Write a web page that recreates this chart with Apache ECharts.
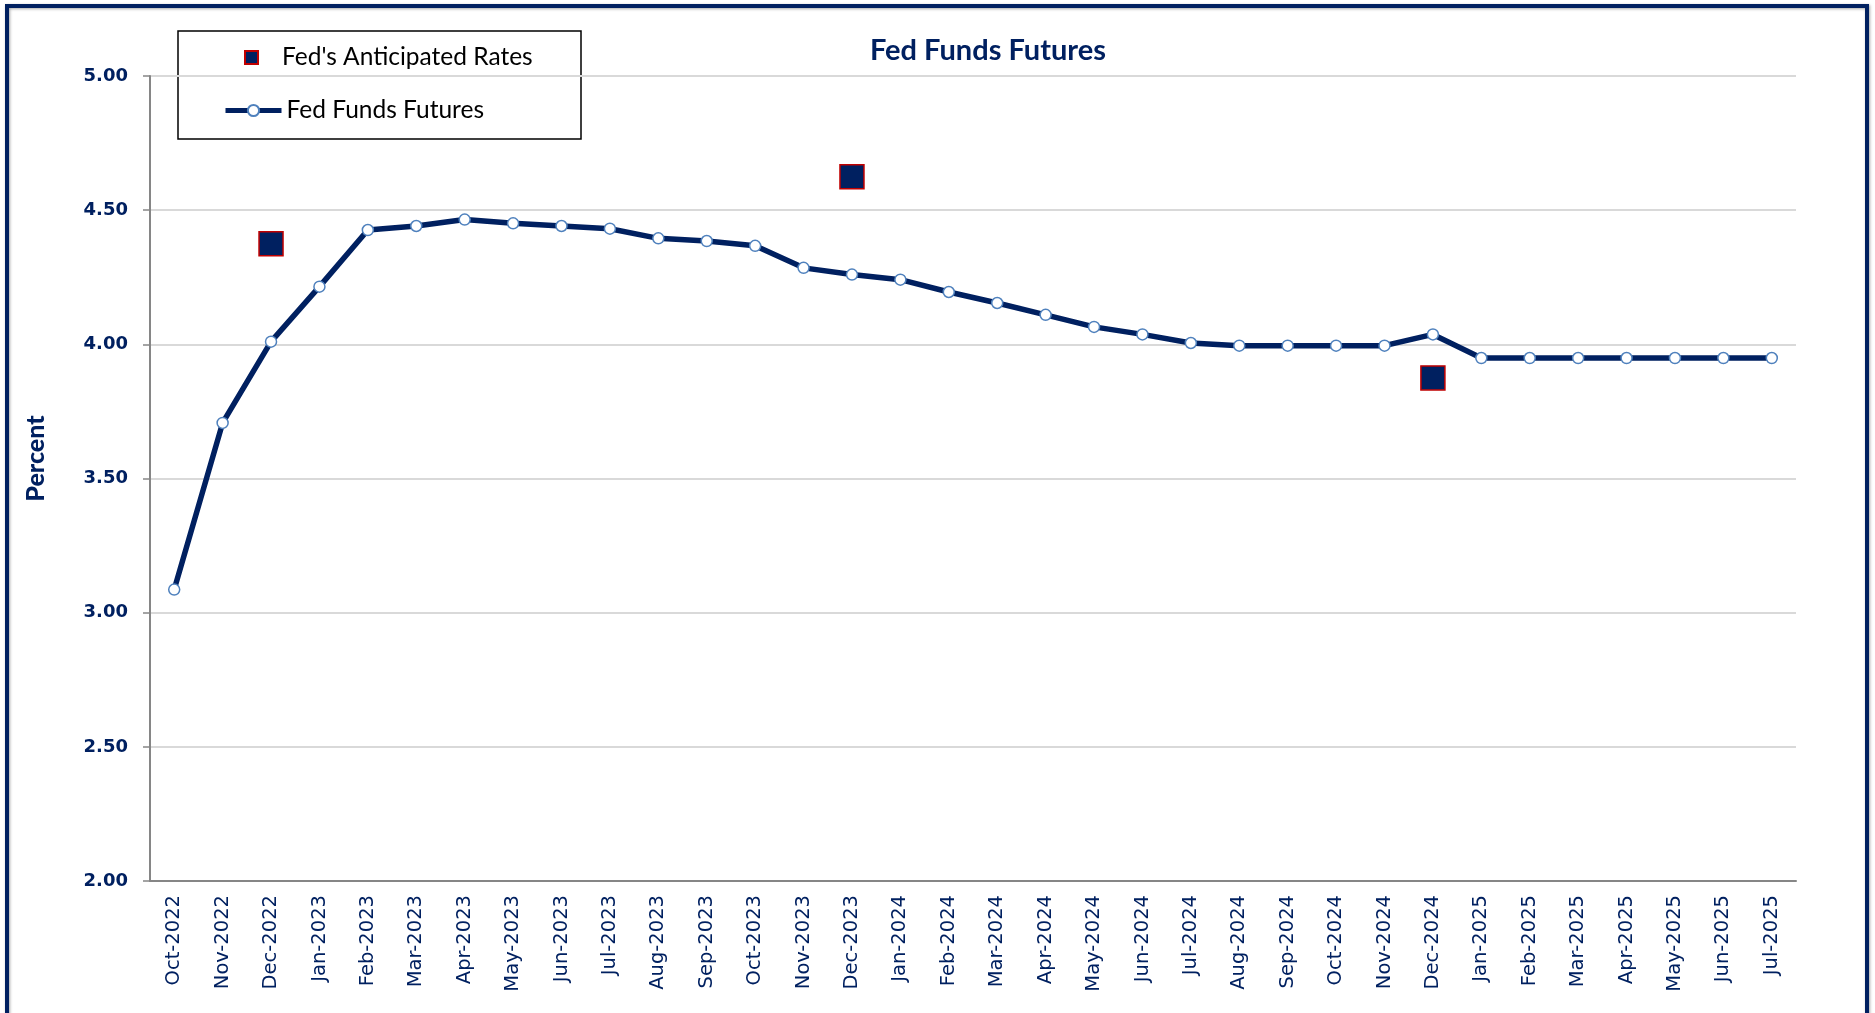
<!DOCTYPE html>
<html>
<head>
<meta charset="utf-8">
<script src="https://cdn.jsdelivr.net/npm/echarts@6/dist/echarts.min.js"></script>
<style>
  html, body { margin: 0; padding: 0; background: #fff; }
  #chart { width: 1875px; height: 1013px; }
</style>
</head>
<body>
<div id="chart"></div>
<script>
var months = [
  "Oct-2022", "Nov-2022", "Dec-2022",
  "Jan-2023", "Feb-2023", "Mar-2023", "Apr-2023", "May-2023", "Jun-2023",
  "Jul-2023", "Aug-2023", "Sep-2023", "Oct-2023", "Nov-2023", "Dec-2023",
  "Jan-2024", "Feb-2024", "Mar-2024", "Apr-2024", "May-2024", "Jun-2024",
  "Jul-2024", "Aug-2024", "Sep-2024", "Oct-2024", "Nov-2024", "Dec-2024",
  "Jan-2025", "Feb-2025", "Mar-2025", "Apr-2025", "May-2025", "Jun-2025", "Jul-2025"
];

var futures = [
  3.086, 3.707, 4.010,
  4.215, 4.426, 4.441, 4.465, 4.451, 4.441,
  4.431, 4.395, 4.385, 4.367, 4.285, 4.260,
  4.241, 4.195, 4.154, 4.110, 4.065, 4.037,
  4.005, 3.995, 3.995, 3.995, 3.995, 4.037,
  3.949, 3.949, 3.949, 3.949, 3.949, 3.949, 3.949
];

// Fed's anticipated year-end rates (only Dec months)
var anticipated = [
  null, null, 4.375,
  null, null, null, null, null, null,
  null, null, null, null, null, 4.625,
  null, null, null, null, null, null,
  null, null, null, null, null, 3.875,
  null, null, null, null, null, null, null
];

var yTicks = [2.0, 2.5, 3.0, 3.5, 4.0, 4.5, 5.0];

var navy = "#002060";

var chart = echarts.init(document.getElementById("chart"));

var option = {
  animation: false,
  title: {
    text: "Fed Funds Futures",
    left: 865,
    top: 31,
    textStyle: {
      fontFamily: "Lato",
      fontWeight: "bold",
      fontSize: 29,
      color: navy,
    },
  },
  legend: [
    {
      data: ["Fed's Anticipated Rates"],
      left: 244,
      top: 45,
      padding: 0,
      itemWidth: 13,
      itemHeight: 13,
      textStyle: {
        fontFamily: "Lato",
        fontSize: 24.5,
        color: "#000",
        padding: [0, 0, 0, 19],
      },
    },
    {
      data: [{
        name: "Fed Funds Futures",
        lineStyle: { width: 5, color: navy },
      }],
      left: 223,
      top: 98,
      padding: 0,
      itemWidth: 56,
      itemHeight: 14,
      textStyle: {
        fontFamily: "Lato",
        fontSize: 24.5,
        color: "#000",
      },
    },
  ],
  graphic: [
    {
      type: "rect",
      shape: { x: 178, y: 31, width: 403, height: 108 },
      style: { fill: "#fff", stroke: "#000", lineWidth: 1.5 },
      z: -1,
    },
    {
      type: "rect",
      shape: { x: 7, y: 6, width: 1860, height: 1100 },
      style: {
        fill: null,
        stroke: navy,
        lineWidth: 4,
        shadowBlur: 3,
        shadowColor: "rgba(0,0,0,0.35)",
        shadowOffsetX: 1,
        shadowOffsetY: 1,
      },
      z: 100,
    },
  ],
  grid: {
    left: 150,
    right: 79,
    top: 76,
    bottom: 132,
  },
  xAxis: {
    type: "category",
    data: months,
    boundaryGap: true,
    axisLine: { lineStyle: { color: "#868686", width: 2 } },
    axisTick: { inside: true, length: 7, lineStyle: { color: "#868686", width: 1.5 } },
    axisLabel: {
      rotate: 90,
      interval: 0,
      margin: 14,
      fontFamily: "DejaVu Sans",
      fontSize: 19.5,
      color: navy,
    },
  },
  yAxis: {
    type: "value",
    min: yTicks[0],
    max: yTicks[yTicks.length - 1],
    interval: 0.5,
    name: "Percent",
    nameLocation: "middle",
    nameGap: 102,
    nameTextStyle: {
      fontFamily: "Lato",
      fontWeight: 900,
      fontSize: 25,
      color: navy,
      padding: [0, 0, 0, 40],
    },
    axisLine: { show: true, lineStyle: { color: "#868686", width: 2 } },
    axisTick: { show: true, length: 7, lineStyle: { color: "#868686", width: 1.5 } },
    axisLabel: {
      margin: 22,
      fontFamily: "DejaVu Sans",
      fontWeight: "bold",
      fontSize: 18,
      color: navy,
      formatter: function (v) {
        return v.toFixed(2);
      },
    },
    splitLine: { lineStyle: { color: "#d9d9d9", width: 2 } },
  },
  series: [
    {
      name: "Fed's Anticipated Rates",
      type: "scatter",
      data: anticipated,
      symbol: "rect",
      symbolSize: 24,
      itemStyle: {
        color: navy,
        opacity: 1,
        borderColor: "#c00000",
        borderWidth: 1.5,
      },
      z: 3,
    },
    {
      name: "Fed Funds Futures",
      type: "line",
      data: futures,
      symbol: "circle",
      symbolSize: 11,
      showAllSymbol: true,
      lineStyle: { color: navy, width: 5.5 },
      itemStyle: {
        color: "#fff",
        borderColor: "#4f81bd",
        borderWidth: 1.5,
      },
      z: 2,
    },
  ],
};

chart.setOption(option);

window.addEventListener("resize", function () {
  chart.resize();
});
</script>
</body>
</html>
